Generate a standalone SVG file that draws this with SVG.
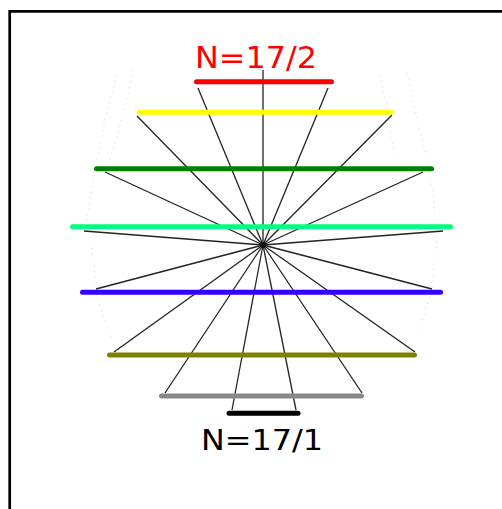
<svg xmlns="http://www.w3.org/2000/svg" width="502" height="509" viewBox="0 0 502 509">
<style>
.frame{fill:none;stroke:#000;stroke-width:2.7}
.spoke{stroke:#222;stroke-width:1.3;fill:none}
.seg{stroke-width:5;stroke-linecap:round;fill:none}
.dot{fill:none;stroke:#e4e4e4;stroke-width:1.2;stroke-dasharray:1.2 4.5}
.lbl{font-family:"DejaVu Sans","Liberation Sans",sans-serif}
</style>
<rect width="502" height="509" fill="#fff"/>
<path class="frame" d="M9.7,509 V11.3 H502"/>
<g id="outline">
<path class="dot" d="M133,70 L127,100 L122,117 L110,160"/>
<path class="dot" d="M117,75 L107,110 L97,160 L87,217 L92,250 L98,300 L112,340"/>
<path class="dot" d="M380,75 L387,107 L395,157"/>
<path class="dot" d="M407,73 L415,110 L425,150 L433,193 L437,240 L432,290 L418,335"/>
</g>
<g id="connectors">
<line class="spoke" x1="263" y1="245" x2="263" y2="70"/>
<line class="spoke" x1="263" y1="245" x2="198" y2="88"/>
<line class="spoke" x1="263" y1="245" x2="328" y2="88"/>
<line class="spoke" x1="263" y1="245" x2="137" y2="116"/>
<line class="spoke" x1="263" y1="245" x2="392" y2="115"/>
<line class="spoke" x1="263" y1="245" x2="105" y2="172"/>
<line class="spoke" x1="263" y1="245" x2="423" y2="172"/>
<line class="spoke" x1="263" y1="245" x2="84" y2="231"/>
<line class="spoke" x1="263" y1="245" x2="443" y2="231"/>
<line class="spoke" x1="263" y1="245" x2="96" y2="289"/>
<line class="spoke" x1="263" y1="245" x2="432" y2="289"/>
<line class="spoke" x1="263" y1="245" x2="114" y2="352"/>
<line class="spoke" x1="263" y1="245" x2="415" y2="352"/>
<line class="spoke" x1="263" y1="245" x2="165" y2="393"/>
<line class="spoke" x1="263" y1="245" x2="362" y2="393"/>
<line class="spoke" x1="263" y1="245" x2="232" y2="410"/>
<line class="spoke" x1="263" y1="245" x2="296" y2="410"/>
<circle cx="263" cy="245" r="3" fill="#111"/>
</g>
<g id="seg-red"><line class="seg" stroke="#ff0000" x1="196.5" y1="81.7" x2="331.5" y2="81.7"/></g>
<g id="seg-yellow"><line class="seg" stroke="#ffff00" x1="139.5" y1="112.3" x2="391.5" y2="112.3"/></g>
<g id="seg-darkgreen"><line class="seg" stroke="#008000" x1="96.5" y1="168.7" x2="431.5" y2="168.7"/></g>
<g id="seg-springgreen"><line class="seg" stroke="#00ff80" x1="72.5" y1="226.7" x2="450.5" y2="226.7"/></g>
<g id="seg-blue"><line class="seg" stroke="#3300ff" x1="82.5" y1="292.3" x2="440.5" y2="292.3"/></g>
<g id="seg-olive"><line class="seg" stroke="#808000" x1="109.5" y1="355" x2="414.5" y2="355"/></g>
<g id="seg-gray"><line class="seg" stroke="#888888" x1="161.5" y1="396" x2="361.5" y2="396"/></g>
<g id="seg-black"><line class="seg" stroke="#000000" stroke-linecap="butt" x1="229" y1="413.3" x2="298" y2="413.3"/></g>
<g id="label-top"><text class="lbl" x="195" y="68.3" fill="#ff0000" font-size="31" textLength="122" lengthAdjust="spacingAndGlyphs">N=17/2</text></g>
<g id="label-bottom"><text class="lbl" x="201" y="450" fill="#000000" font-size="28.5" textLength="122" lengthAdjust="spacingAndGlyphs">N=17/1</text></g>
</svg>
